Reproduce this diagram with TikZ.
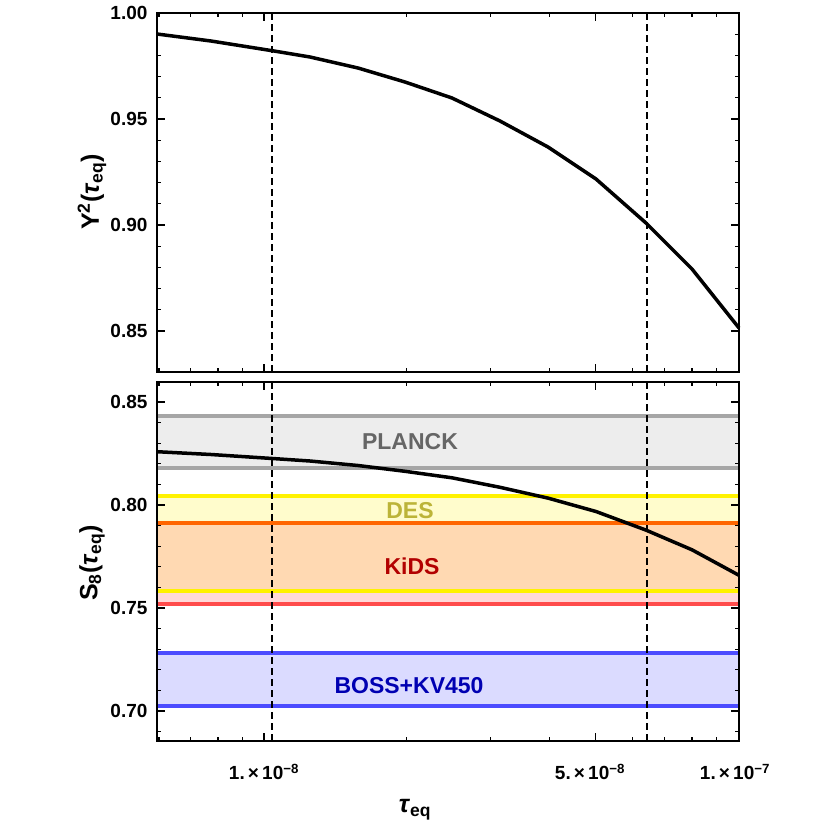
\documentclass[tikz,border=0pt]{standalone}
\usepackage{fontspec}
\setmainfont{Liberation Sans}
\begin{document}
\begin{tikzpicture}[x=1pt,y=-1pt,
  frame/.style={line width=2.5pt},
  curve/.style={line width=3.5pt,line join=round},
  vdash/.style={line width=1.8pt,dash pattern=on 7pt off 4pt},
  ticklab/.style={font=\fontsize{19}{20}\selectfont\bfseries},
  axlab/.style={font=\fontsize{25}{26}\selectfont\bfseries},
  bandlab/.style={font=\fontsize{23}{24}\selectfont\bfseries},
  bline/.style={line width=3.2pt}]
\useasboundingbox (0,0) rectangle (830,839);
% bands
\fill[black!7] (157,416) rectangle (739,468);
\fill[yellow!20] (157,496) rectangle (739,523);
\fill[orange!30!white] (157,523) rectangle (739,591);
\fill[red!15] (157,591) rectangle (739,604);
\fill[blue!14] (157,653) rectangle (739,706);
\draw[bline,black!35] (157,416) -- (739,416) (157,468) -- (739,468);
\draw[bline,yellow] (157,496) -- (739,496) (157,591) -- (739,591);
\draw[bline,orange!80!red] (157,523) -- (739,523);
\draw[bline,red!70] (157,604) -- (739,604);
\draw[bline,blue!70] (157,653) -- (739,653) (157,706) -- (739,706);
\node[bandlab,text=black!60] (pl) at (410,442) {PLANCK};
\node[bandlab,text=yellow!70!black] (des) at (410,511) {DES};
\node[bandlab,text=red!70!black] (kids) at (412,566) {KiDS};
\node[bandlab,text=blue!70!black] (boss) at (409,686) {BOSS+KV450};
% curves
\draw[curve] (157,34) -- (211,41) -- (274,51) -- (310,57) -- (358,68) -- (405,82) -- (452,98) -- (500,121) -- (548,147) -- (596,179) -- (646,223) -- (692,269) -- (739,328);
\draw[curve] (157,451.7) -- (211,454.5) -- (274,458.6) -- (310,461) -- (358,465.5) -- (405,471.3) -- (452,477.8) -- (500,487.3) -- (548,498.1) -- (596,511.5) -- (646,530.1) -- (692,549.8) -- (739,575.3);
% dashed lines
\foreach \x in {272,647} {
  \draw[vdash] (\x,13) -- (\x,372);
  \draw[vdash] (\x,382) -- (\x,741);
}
% y ticks top
\foreach \i in {0,...,15} {
  \pgfmathsetmacro\yy{13+21.2*\i}
  \draw[line width=1.3pt] (157,\yy) -- (161,\yy) (739,\yy) -- (735,\yy);
}
\foreach \i in {0,5,...,15} {
  \pgfmathsetmacro\yy{13+21.2*\i}
  \draw[line width=1.3pt] (157,\yy) -- (165,\yy) (739,\yy) -- (731,\yy);
}
\foreach \v/\yy in {1.00/13,0.95/119,0.90/225,0.85/331}
  \node[ticklab,anchor=east] at (151,\yy) {\v};
% y ticks bottom
\foreach \i in {-1,...,16} {
  \pgfmathsetmacro\yy{402+20.6*\i}
  \draw[line width=1.3pt] (157,\yy) -- (161,\yy) (739,\yy) -- (735,\yy);
}
\foreach \i in {0,5,10,15} {
  \pgfmathsetmacro\yy{402+20.6*\i}
  \draw[line width=1.3pt] (157,\yy) -- (165,\yy) (739,\yy) -- (731,\yy);
}
\foreach \v/\yy in {0.85/402,0.80/505,0.75/608,0.70/711}
  \node[ticklab,anchor=east] at (151,\yy) {\v};
% x ticks
\foreach \x in {158.9,190.6,218.1,242.3,406.7,490.2,549.4,632.8,664.6,692.1,716.3} {
  \draw[line width=1.3pt] (\x,13) -- (\x,17) (\x,372) -- (\x,368) (\x,382) -- (\x,386) (\x,741) -- (\x,737);
}
\foreach \x in {264,595.3} {
  \draw[line width=1.3pt] (\x,13) -- (\x,21) (\x,372) -- (\x,364) (\x,382) -- (\x,390) (\x,741) -- (\x,733);
}
\node[ticklab] (t1) at (264,772) {1.\,×\,10\textsuperscript{−8}};
\node[ticklab] (t2) at (590,772) {5.\,×\,10\textsuperscript{−8}};
\node[ticklab] (t3) at (735,772) {1.\,×\,10\textsuperscript{−7}};
% frames
\draw[frame] (157,13) rectangle (739,372);
\draw[frame] (157,382) rectangle (739,741);
% axis labels
\node[axlab,rotate=90] (ly) at (92,192) {Y\textsuperscript{2}(\textit{τ}\textsubscript{eq})};
\node[axlab,rotate=90] (ls) at (92,563) {S\textsubscript{8}(\textit{τ}\textsubscript{eq})};
\node[axlab] (lx) at (415,810) {\textit{τ}\textsubscript{eq}};
\end{tikzpicture}
\end{document}
